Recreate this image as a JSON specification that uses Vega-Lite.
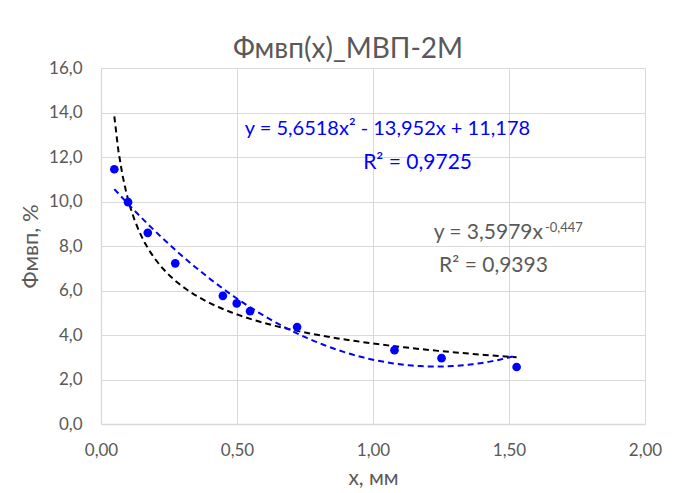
{
  "$schema": "https://vega.github.io/schema/vega-lite/v6.json",
  "width": 544,
  "height": 356,
  "autosize": "none",
  "padding": {"left": 101, "top": 68, "right": 28, "bottom": 69},
  "background": "white",
  "config": {
    "font": "Lato",
    "view": {"stroke": null},
    "axis": {
      "gridColor": "#d9d9d9",
      "gridWidth": 1,
      "domainColor": "#d9d9d9",
      "domainWidth": 1.3,
      "ticks": false,
      "labelColor": "#595959",
      "labelFont": "Lato",
      "labelFontSize": 17,
      "labelFlush": false,
      "titleColor": "#595959",
      "titleFont": "Lato",
      "titleFontWeight": "normal"
    }
  },
  "title": {
    "text": "Фмвп(x)_МВП-2М",
    "font": "Lato",
    "fontSize": 28,
    "fontWeight": "normal",
    "color": "#595959",
    "anchor": "middle",
    "frame": "group",
    "dx": -25,
    "dy": 5,
    "offset": 0
  },
  "data": {
    "values": [
      {"x": 0.049, "y": 11.45},
      {"x": 0.0995, "y": 9.97},
      {"x": 0.172, "y": 8.59},
      {"x": 0.273, "y": 7.22},
      {"x": 0.448, "y": 5.76},
      {"x": 0.499, "y": 5.42},
      {"x": 0.548, "y": 5.07},
      {"x": 0.721, "y": 4.36},
      {"x": 1.079, "y": 3.32},
      {"x": 1.252, "y": 2.96},
      {"x": 1.528, "y": 2.56}
    ]
  },
  "encoding": {
    "x": {
      "field": "x",
      "type": "quantitative",
      "scale": {"domain": [0, 2], "nice": false, "zero": true},
      "axis": {
        "title": "x, мм",
        "titleFontSize": 21,
        "values": [0, 0.5, 1, 1.5, 2],
        "labelExpr": "replace(format(datum.value, '.2f'), '.', ',')",
        "labelPadding": 18,
        "titlePadding": 9
      }
    },
    "y": {
      "field": "y",
      "type": "quantitative",
      "scale": {"domain": [0, 16], "nice": false},
      "axis": {
        "title": "Фмвп, %",
        "titleFontSize": 22,
        "values": [0, 2, 4, 6, 8, 10, 12, 14, 16],
        "labelExpr": "replace(format(datum.value, '.1f'), '.', ',')",
        "labelPadding": 19,
        "titlePadding": 6
      }
    }
  },
  "layer": [
    {
      "transform": [{"regression": "y", "on": "x", "method": "pow"}],
      "mark": {"type": "line", "color": "#000000", "strokeWidth": 2, "strokeDash": [6, 4]}
    },
    {
      "transform": [{"regression": "y", "on": "x", "method": "poly", "order": 2}],
      "mark": {"type": "line", "color": "#0000ff", "strokeWidth": 2, "strokeDash": [6, 4]}
    },
    {
      "mark": {"type": "circle", "color": "#0000ff", "opacity": 1, "size": 75}
    },
    {
      "transform": [{"filter": "datum.x > 1.5"}],
      "mark": {"type": "text", "text": "y = 5,6518x² - 13,952x + 11,178", "color": "#0000ff", "font": "Lato", "fontSize": 20, "align": "center", "baseline": "alphabetic"},
      "encoding": {"x": {"datum": 1.053}, "y": {"datum": 12.97}}
    },
    {
      "transform": [{"filter": "datum.x > 1.5"}],
      "mark": {"type": "text", "text": "R² = 0,9725", "color": "#0000ff", "font": "Lato", "fontSize": 21, "align": "center", "baseline": "alphabetic"},
      "encoding": {"x": {"datum": 1.164}, "y": {"datum": 11.48}}
    },
    {
      "transform": [{"filter": "datum.x > 1.5"}],
      "mark": {"type": "text", "text": "y = 3,5979x", "color": "#595959", "font": "Lato", "fontSize": 21, "align": "right", "baseline": "alphabetic"},
      "encoding": {"x": {"datum": 1.625}, "y": {"datum": 8.32}}
    },
    {
      "transform": [{"filter": "datum.x > 1.5"}],
      "mark": {"type": "text", "text": "-0,447", "color": "#595959", "font": "Lato", "fontSize": 13, "align": "left", "baseline": "alphabetic"},
      "encoding": {"x": {"datum": 1.632}, "y": {"datum": 8.64}}
    },
    {
      "transform": [{"filter": "datum.x > 1.5"}],
      "mark": {"type": "text", "text": "R² = 0,9393", "color": "#595959", "font": "Lato", "fontSize": 21, "align": "center", "baseline": "alphabetic"},
      "encoding": {"x": {"datum": 1.443}, "y": {"datum": 6.83}}
    }
  ]
}
